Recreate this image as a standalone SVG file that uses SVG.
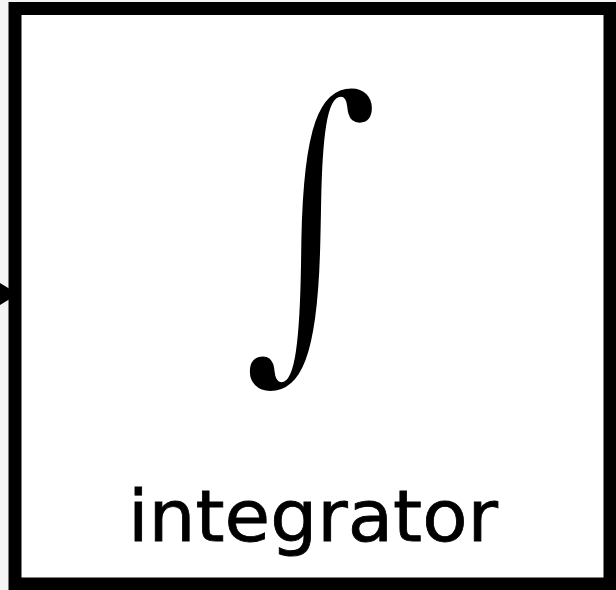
<svg xmlns="http://www.w3.org/2000/svg" width="616" height="590" viewBox="0 0 616 590">
<style>
.box{fill:#ffffff;stroke:#000000;stroke-width:13}
.sym{font-family:"DejaVu Serif",serif;font-size:300px;fill:#000;stroke:#ffffff;stroke-width:8}
.lbl{font-family:"DejaVu Sans",sans-serif;font-size:72px;fill:#000;stroke:#000;stroke-width:0.8}
</style>
<rect x="0" y="0" width="616" height="590" fill="#f4f4f4"/>
<g id="connectors">
<polygon points="0,283 18,294 0,305" fill="#000"/>
</g>
<g id="integrator">
<rect class="box" x="15" y="8.5" width="595" height="575.5"/>
<text class="sym" x="0" y="0" text-anchor="middle" transform="translate(311,335.3) scale(0.909,1.107)">∫</text>
<text class="lbl" x="313" y="541" text-anchor="middle" textLength="370" lengthAdjust="spacingAndGlyphs">integrator</text>
</g>
</svg>
